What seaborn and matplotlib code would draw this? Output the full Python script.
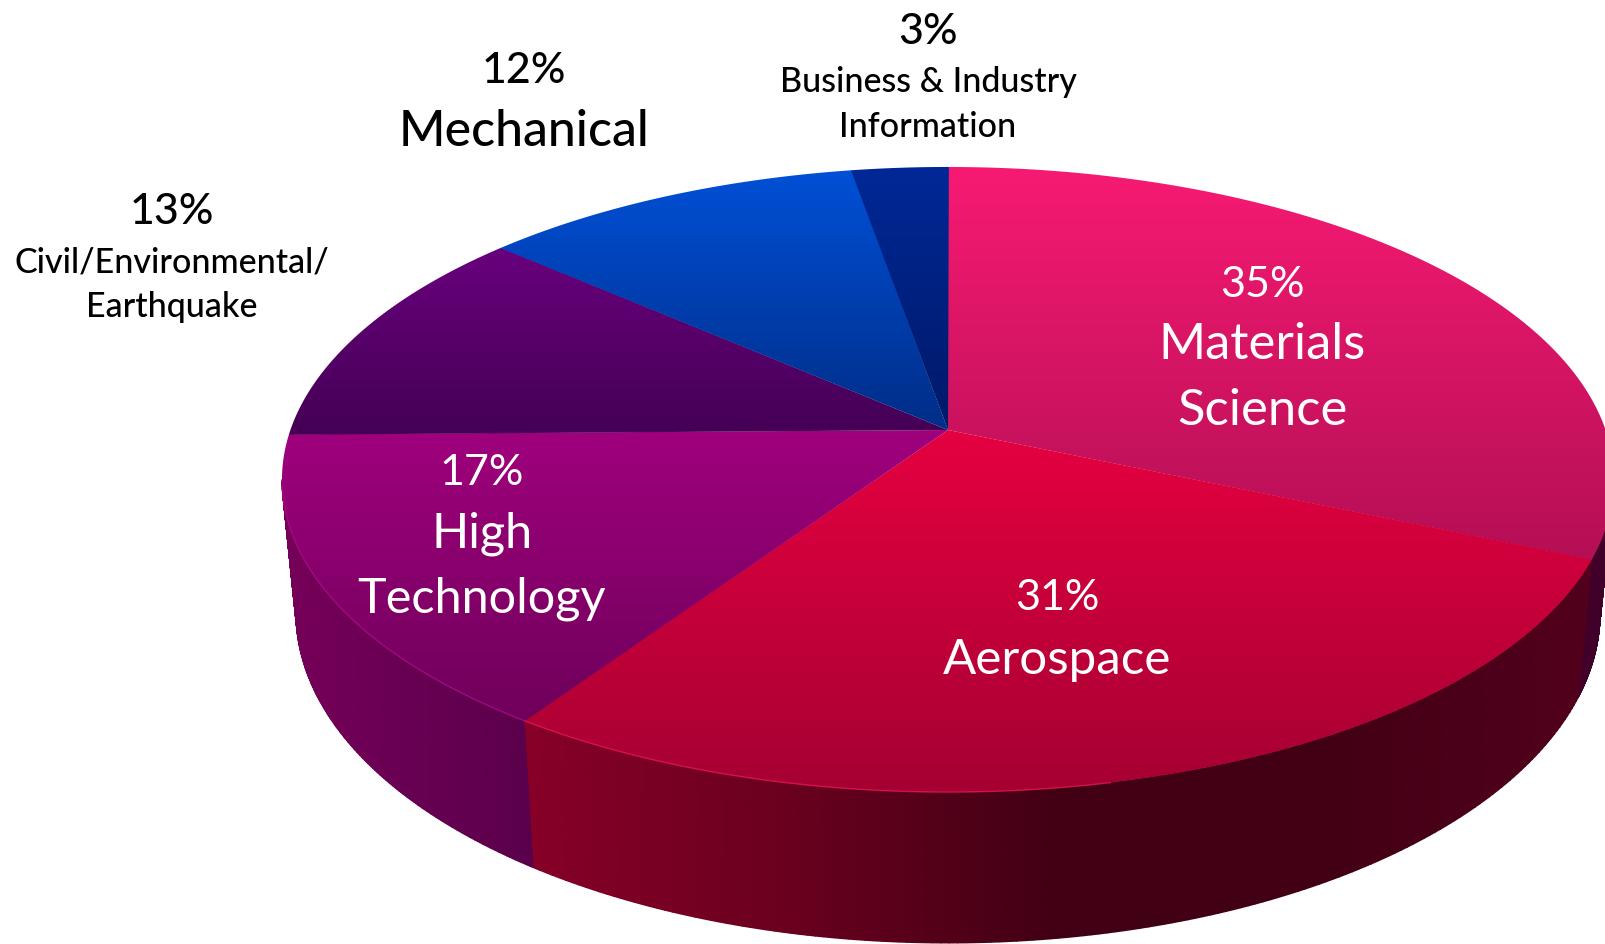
import matplotlib
matplotlib.use("Agg")
import matplotlib.pyplot as plt
from matplotlib.patches import Polygon
import numpy as np
import seaborn as sns

# clockwise from 12 o'clock
names = ["Materials\nScience", "Aerospace", "High\nTechnology",
         "Civil/Environmental/\nEarthquake", "Mechanical",
         "Business & Industry\nInformation"]
values = [35, 31, 17, 13, 12, 3]

# top face gradient, far edge to near edge
top_colors = [
    ["#f71a73", "#b40f55"],
    ["#e60041", "#a50032"],
    ["#a0007d", "#6e005a"],
    ["#69007d", "#440055"],
    ["#0050d7", "#002d87"],
    ["#002896", "#001969"],
]
# side wall gradient, left to right
side_colors = [
    ["#41002a", "#41002a"],
    ["#870028", "#69001e", "#420014", "#420014", "#52001c"],
    ["#760059", "#5a004b"],
    ["#760059", "#760059"],
    ["#002d87", "#002d87"],
    ["#001969", "#001969"],
]

sns.set_theme(style="white")
plt.rcParams["font.family"] = ["Lato", "DejaVu Sans"]

# perspective disc: apex and the radii of the unit circle on screen
cx, cy = 948.0, 430.0
rx, ry, k = 657.6, 304.7, 0.1584
# bottom rim relative to the top rim
sx, sy, drop = 0.979, 1.056, 130.7


def rim(theta, bottom=False):
    u, v = np.sin(theta), np.cos(theta)
    x = rx * u / (1 + k * v)
    y = ry * v / (1 + k * v)
    if bottom:
        return cx + sx * x, cy - (sy * y - drop)
    return cx + x, cy - y


fig, ax = plt.subplots(figsize=(16.06, 9.44), dpi=100)
ax.set_position([0, 0, 1, 1])

edges = np.cumsum([0] + values) / sum(values) * 2 * np.pi

# side walls first, only the front part between the two tangent points shows
front_start = np.arccos(-k)
front_end = 2 * np.pi - front_start
for i in range(len(values)):
    start = max(edges[i], front_start)
    end = min(edges[i + 1], front_end)
    if end <= start:
        continue
    theta = np.linspace(start, end, 160)
    x0, y0 = rim(theta)
    x1, y1 = rim(theta, bottom=True)
    t = np.linspace(0, 1, 12)[:, None]
    xx = x0 + (x1 - x0) * t
    yy = y0 + (y1 - y0) * t
    cmap = sns.blend_palette(side_colors[i], as_cmap=True)
    ax.pcolormesh(xx, yy, xx, cmap=cmap, vmin=xx.min(), vmax=xx.max(),
                  shading="gouraud", zorder=1)

overlap = 0.0015  # hides the seam between neighbouring faces
for i in range(len(values)):
    theta = np.linspace(edges[i] - overlap, edges[i + 1], 200)
    if i == len(values) - 1:
        theta = np.linspace(edges[i] - overlap, edges[i + 1] + overlap, 200)
    x, y = rim(theta)
    xs = np.r_[cx, x]
    ys = np.r_[cy, y]
    cmap = sns.blend_palette(top_colors[i], as_cmap=True)
    grad = np.linspace(0, 1, 256)[:, None]
    im = ax.imshow(grad, cmap=cmap, aspect="auto", origin="upper", zorder=2 + i * 0.01,
                   extent=(xs.min(), xs.max(), ys.max(), ys.min()))
    face = Polygon(np.c_[xs, ys], closed=True, fc="none", ec="none",
                   transform=ax.transData)
    ax.add_patch(face)
    im.set_clip_path(face)

# thin lit edge along the front rim
x, y = rim(np.linspace(edges[1] + 0.95, edges[2], 80))
ax.plot(x, y, color="#e8164f", lw=1, alpha=0.8, zorder=3)
x, y = rim(np.linspace(edges[2], edges[2] + 0.8, 60))
ax.plot(x, y, color="#ad0a88", lw=1, alpha=0.8, zorder=3)

# label centres: percent line, then the name lines
label_pos = [
    (1262, [285, 345, 411]),
    (1057, [598, 660]),
    (482, [473, 534, 599]),
    (172, [212, 263, 307]),
    (524, [71, 132]),
    (928, [32, 82, 127]),
]
label_color = ["white", "white", "white", "black", "black", "black"]
label_weight = ["normal", "normal", "normal", "medium", "medium", "medium"]
name_size = [36.5, 35.5, 35, 24.5, 36, 24.5]
pct_size = [31, 31, 31, 31, 31, 31]

for i, (lx, ly) in enumerate(label_pos):
    ax.text(lx, ly[0], f"{values[i]}%", ha="center", va="center", weight=label_weight[i],
            color=label_color[i], fontsize=pct_size[i], zorder=5)
    for j, line in enumerate(names[i].split("\n")):
        ax.text(lx, ly[j + 1], line, ha="center", va="center", weight=label_weight[i],
                color=label_color[i], fontsize=name_size[i], zorder=5)

ax.set_xlim(0, 1606)
ax.set_ylim(944, 0)
ax.axis("off")
fig.savefig("out.png", dpi=100, facecolor="white")
